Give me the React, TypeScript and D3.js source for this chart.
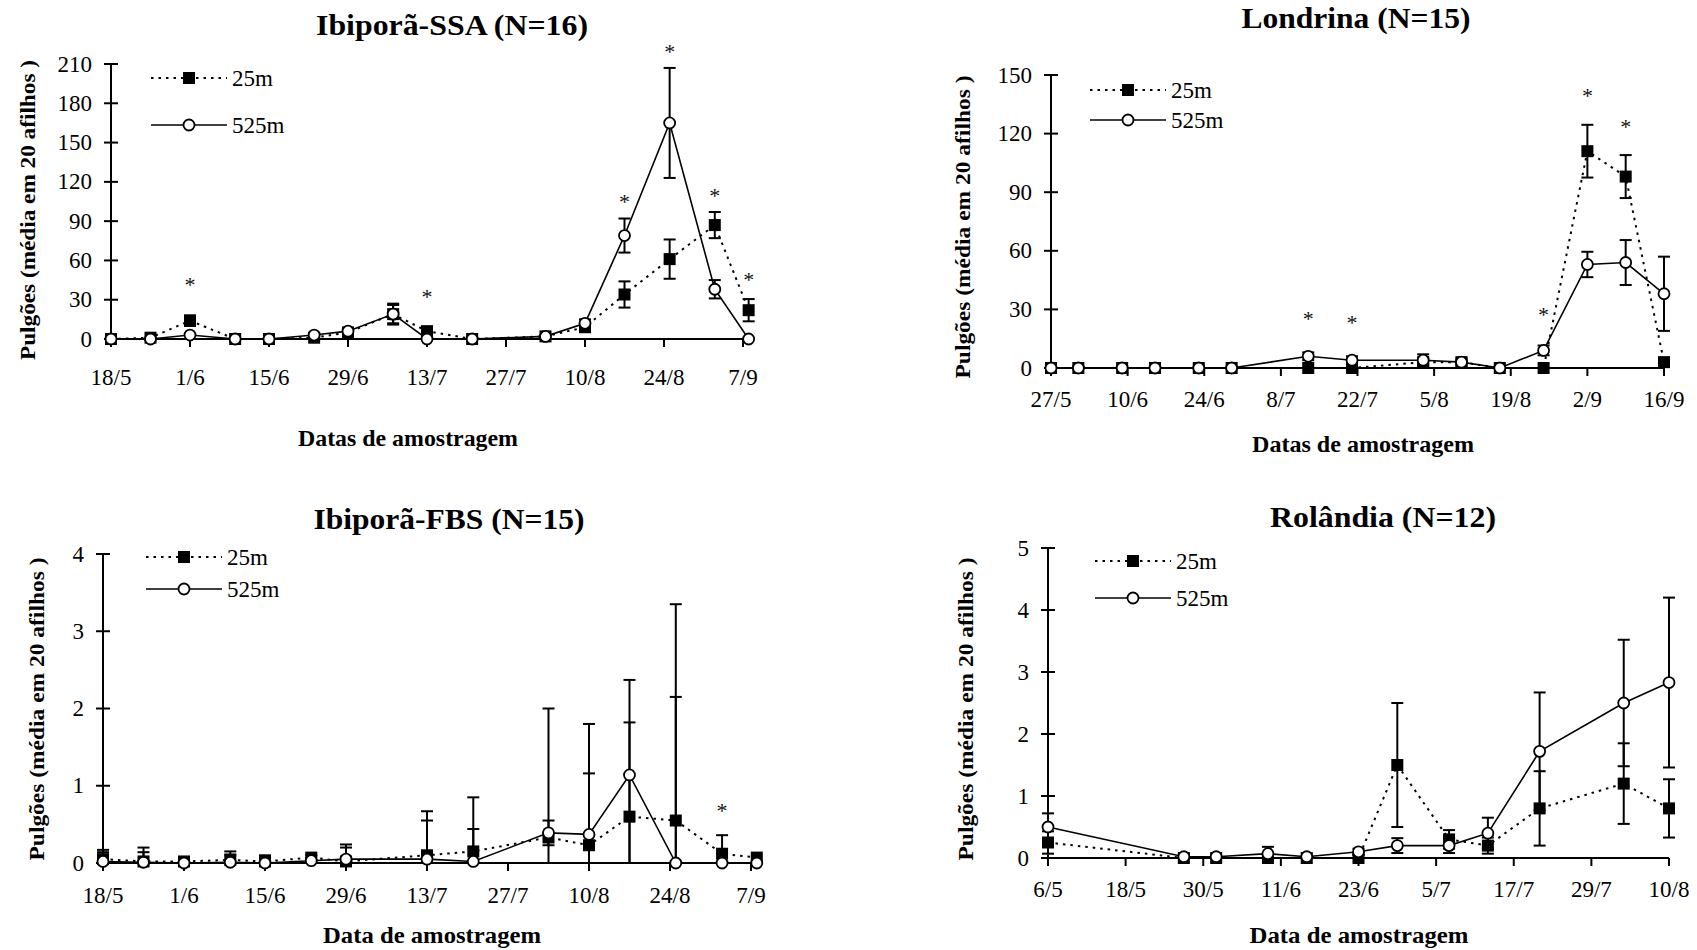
import React from "react";
import * as d3 from "d3";

// ---------- DATA ----------
// Ibiporã-SSA
const ssaDates = ["18/5","25/5","1/6","9/6","15/6","23/6","29/6","7/7","13/7","21/7","3/8","10/8","17/8","25/8","2/9","8/9"];
const ssa25 = [0, 1, 14, 0, 0, 1, 5, 19, 6, 0, 2, 9, 34, 61, 87, 22];
const ssa25Err = [0, 0, 4, 0, 0, 0, 1, 8, 2, 0, 0, 3, 10, 15, 10, 8.5];
const ssa525 = [0, 0, 3, 0, 0, 3, 6, 19, 0, 0, 2, 12, 79, 165, 38, 0];
const ssa525Err = [0, 0, 0, 0, 0, 0, 0, 7, 0, 0, 0, 3, 13, 42, 7, 0];
const ssaTicks = ["18/5","1/6","15/6","29/6","13/7","27/7","10/8","24/8","7/9"];
const ssaYTicks = [0, 30, 60, 90, 120, 150, 180, 210];
const ssaStarDates = ["1/6","13/7","17/8","25/8","2/9","8/9"];
const ssaStarY = [44, 35, 107, 222, 112, 48];

// Londrina
const lonDates = ["27/5","1/6","9/6","15/6","23/6","29/6","13/7","21/7","3/8","10/8","17/8","25/8","2/9","9/9","16/9"];
const lon25 = [0, 0, 0, 0, 0, 0, 0, 0, 3, 3, 0, 0, 111, 98, 3];
const lon25Err = [0, 0, 0, 0, 0, 0, 0, 0, 1, 1, 0, 0, 13.5, 11, 1];
const lon525 = [0, 0, 0, 0, 0, 0, 6, 4, 4, 3, 0, 9, 53, 54, 38];
const lon525Err = [0, 0, 0, 0, 0, 0, 2, 2, 3, 2, 0, 2.5, 6.5, 11.5, 19];
const lonTicks = ["27/5","10/6","24/6","8/7","22/7","5/8","19/8","2/9","16/9"];
const lonYTicks = [0, 30, 60, 90, 120, 150];
const lonStarDates = ["13/7","21/7","25/8","2/9","9/9"];
const lonStarY = [27, 25, 29, 141, 125];

// Ibiporã-FBS
const fbsDates = ["18/5","25/5","1/6","9/6","15/6","23/6","29/6","13/7","21/7","3/8","10/8","17/8","25/8","2/9","8/9"];
const fbs25 = [0.05, 0.02, 0.02, 0.04, 0.02, 0.07, 0.02, 0.1, 0.15, 0.33, 0.23, 0.6, 0.55, 0.12, 0.07];
const fbs25Err = [0.12, 0.18, 0.03, 0.11, 0.08, 0.03, 0.22, 0.57, 0.7, 1.67, 1.57, 1.22, 2.8, 0.24, 0];
const fbs525 = [0.02, 0.01, 0, 0.01, 0, 0.03, 0.05, 0.05, 0.02, 0.39, 0.37, 1.14, 0, 0, 0];
const fbs525Err = [0.12, 0.13, 0, 0.1, 0, 0, 0.15, 0.5, 0.42, 0.16, 0.79, 1.23, 2.15, 0, 0];
const fbsTicks = ["18/5","1/6","15/6","29/6","13/7","27/7","10/8","24/8","7/9"];
const fbsYTicks = [0, 1, 2, 3, 4];
const fbsStarDates = ["2/9"];
const fbsStarY = [0.72];

// Rolândia
const rolDates = ["6/5","27/5","1/6","9/6","15/6","23/6","29/6","7/7","13/7","21/7","3/8","10/8"];
const rol25 = [0.25, 0, 0, 0, 0, 0, 1.5, 0.3, 0.2, 0.8, 1.2, 0.8];
const rol25Err = [0.18, 0, 0, 0.05, 0, 0.05, 1.0, 0.15, 0.13, 0.6, 0.65, 0.47];
const rol525 = [0.5, 0.02, 0.02, 0.07, 0.02, 0.1, 0.2, 0.2, 0.4, 1.72, 2.5, 2.83];
const rol525Err = [0.22, 0, 0, 0.11, 0, 0.05, 0.12, 0.12, 0.25, 0.95, 1.02, 1.37];
const rolTicks = ["6/5","18/5","30/5","11/6","23/6","5/7","17/7","29/7","10/8"];
const rolYTicks = [0, 1, 2, 3, 4, 5];
const rolStarDates: string[] = [];
const rolStarY: number[] = [];

const seriesNames = ["25m", "525m"];
const yTitle = "Pulgões (média em 20 afilhos )";

// ---------- LAYOUT ----------
const FONT = "'Liberation Serif', 'Times New Roman', serif";

const panels = [
  {
    title: "Ibiporã-SSA (N=16)", xTitle: "Datas de amostragem",
    dates: ssaDates, s25: ssa25, e25: ssa25Err, s525: ssa525, e525: ssa525Err,
    ticks: ssaTicks, yTicks: ssaYTicks, starDates: ssaStarDates, starY: ssaStarY,
    xRange: [111, 743], yRange: [339, 64], labelOff: 38,
    titlePos: [452, 24, 272], xTitlePos: [408, 438, 220], yTitlePos: [27, 210, 300],
    legend: [151, 78, 125],
  },
  {
    title: "Londrina (N=15)", xTitle: "Datas de amostragem",
    dates: lonDates, s25: lon25, e25: lon25Err, s525: lon525, e525: lon525Err,
    ticks: lonTicks, yTicks: lonYTicks, starDates: lonStarDates, starY: lonStarY,
    xRange: [1051, 1664], yRange: [368, 75], labelOff: 31,
    titlePos: [1356, 17, 229], xTitlePos: [1363, 444, 222], yTitlePos: [962, 227, 303],
    legend: [1090, 90, 120],
  },
  {
    title: "Ibiporã-FBS (N=15)", xTitle: "Data de amostragem",
    dates: fbsDates, s25: fbs25, e25: fbs25Err, s525: fbs525, e525: fbs525Err,
    ticks: fbsTicks, yTicks: fbsYTicks, starDates: fbsStarDates, starY: fbsStarY,
    xRange: [103, 751], yRange: [863, 554], labelOff: 32,
    titlePos: [449, 518, 271], xTitlePos: [432, 935, 218], yTitlePos: [36, 709, 303],
    legend: [146, 557, 589],
  },
  {
    title: "Rolândia (N=12)", xTitle: "Data de amostragem",
    dates: rolDates, s25: rol25, e25: rol25Err, s525: rol525, e525: rol525Err,
    ticks: rolTicks, yTicks: rolYTicks, starDates: rolStarDates, starY: rolStarY,
    xRange: [1048, 1669], yRange: [858, 548], labelOff: 31,
    titlePos: [1383, 516, 226], xTitlePos: [1359, 935, 219], yTitlePos: [965, 709, 303],
    legend: [1095, 561, 598],
  },
];

const parse = (s: string) => {
  const [d, m] = s.split("/").map(Number);
  return new Date(Date.UTC(2003, m - 1, d));
};

function ErrorBars({ xs, vals, errs, y }: any) {
  return (
    <g stroke="#000" strokeWidth={2}>
      {vals.map((v: number, i: number) => {
        const e = errs[i];
        if (!e) return null;
        const hi = v + e;
        const lo = Math.max(0, v - e);
        const cx = xs[i];
        return (
          <g key={i}>
            <line x1={cx} x2={cx} y1={y(lo)} y2={y(hi)} />
            <line x1={cx - 6} x2={cx + 6} y1={y(hi)} y2={y(hi)} />
            {lo > 0 && <line x1={cx - 6} x2={cx + 6} y1={y(lo)} y2={y(lo)} />}
          </g>
        );
      })}
    </g>
  );
}

function Panel({ cfg }: any) {
  const x = d3.scaleUtc()
    .domain([parse(cfg.ticks[0]), parse(cfg.ticks[cfg.ticks.length - 1])])
    .range(cfg.xRange);
  const yMax = cfg.yTicks[cfg.yTicks.length - 1];
  const y = d3.scaleLinear().domain([0, yMax]).range(cfg.yRange);
  const xs = cfg.dates.map((d: string) => x(parse(d)));
  const line = d3.line<number>().x((_, i) => xs[i]).y((v) => y(v));
  const x0 = cfg.xRange[0];
  const y0 = y(0);
  const xEnd = Math.max(cfg.xRange[1], xs[xs.length - 1]);
  const [lx, ly25, ly525] = cfg.legend;

  return (
    <g fontFamily={FONT} fill="#000">
      {/* titles */}
      <text x={cfg.titlePos[0]} y={cfg.titlePos[1]} textAnchor="middle" dominantBaseline="central"
        fontSize={30} fontWeight="bold" textLength={cfg.titlePos[2]} lengthAdjust="spacingAndGlyphs">{cfg.title}</text>
      <text x={cfg.xTitlePos[0]} y={cfg.xTitlePos[1]} textAnchor="middle" dominantBaseline="central"
        fontSize={24} fontWeight="bold" textLength={cfg.xTitlePos[2]} lengthAdjust="spacingAndGlyphs">{cfg.xTitle}</text>
      <text transform={`translate(${cfg.yTitlePos[0]},${cfg.yTitlePos[1]}) rotate(-90)`} textAnchor="middle"
        dominantBaseline="central" fontSize={22} fontWeight="bold" textLength={cfg.yTitlePos[2]}
        lengthAdjust="spacingAndGlyphs">{yTitle}</text>

      {/* axes */}
      <g stroke="#000" strokeWidth={2}>
        <line x1={x0} x2={x0} y1={y(yMax)} y2={y0} />
        <line x1={x0} x2={xEnd} y1={y0} y2={y0} />
        {cfg.yTicks.map((t: number) => (
          <line key={"yt" + t} x1={x0 - 7} x2={x0 + 7} y1={y(t)} y2={y(t)} />
        ))}
        {cfg.ticks.map((t: string) => (
          <line key={"xt" + t} x1={x(parse(t))} x2={x(parse(t))} y1={y0} y2={y0 + 8} />
        ))}
      </g>
      {cfg.yTicks.map((t: number) => (
        <text key={"yl" + t} x={x0 - 19} y={y(t)} textAnchor="end" dominantBaseline="central" fontSize={23}>{t}</text>
      ))}
      {cfg.ticks.map((t: string) => (
        <text key={"xl" + t} x={x(parse(t))} y={y0 + cfg.labelOff} textAnchor="middle" dominantBaseline="central" fontSize={23}>{t}</text>
      ))}

      {/* series 25m */}
      <path d={line(cfg.s25) || ""} fill="none" stroke="#000" strokeWidth={2} strokeDasharray="2.5 5" />
      <ErrorBars xs={xs} vals={cfg.s25} errs={cfg.e25} y={y} />
      {cfg.s25.map((v: number, i: number) => (
        <rect key={"sq" + i} x={xs[i] - 6} y={y(v) - 6} width={12} height={12} fill="#000" />
      ))}

      {/* series 525m */}
      <path d={line(cfg.s525) || ""} fill="none" stroke="#000" strokeWidth={1.6} />
      <ErrorBars xs={xs} vals={cfg.s525} errs={cfg.e525} y={y} />
      {cfg.s525.map((v: number, i: number) => (
        <circle key={"c" + i} cx={xs[i]} cy={y(v)} r={5.5} fill="#fff" stroke="#000" strokeWidth={1.8} />
      ))}

      {/* significance asterisks */}
      {cfg.starDates.map((d: string, i: number) => (
        <text key={"st" + i} x={x(parse(d))} y={y(cfg.starY[i]) + 10.5} textAnchor="middle" fontSize={22} fill="#111">*</text>
      ))}

      {/* legend */}
      <line x1={lx} x2={lx + 76} y1={ly25} y2={ly25} stroke="#000" strokeWidth={2} strokeDasharray="2.5 5" />
      <rect x={lx + 38 - 6} y={ly25 - 6} width={12} height={12} fill="#000" />
      <text x={lx + 81} y={ly25} dominantBaseline="central" fontSize={23}>{seriesNames[0]}</text>
      <line x1={lx} x2={lx + 76} y1={ly525} y2={ly525} stroke="#000" strokeWidth={1.6} />
      <circle cx={lx + 38} cy={ly525} r={5.5} fill="#fff" stroke="#000" strokeWidth={1.8} />
      <text x={lx + 81} y={ly525} dominantBaseline="central" fontSize={23}>{seriesNames[1]}</text>
    </g>
  );
}

export default function App() {
  return (
    <div style={{ position: "absolute", left: 0, top: 0 }}>
      <svg width={1697} height={950} viewBox="0 0 1697 950" style={{ display: "block", background: "#fff" }}>
        <rect width={1697} height={950} fill="#fff" />
        {panels.map((p, i) => (
          <Panel key={i} cfg={p} />
        ))}
      </svg>
    </div>
  );
}
